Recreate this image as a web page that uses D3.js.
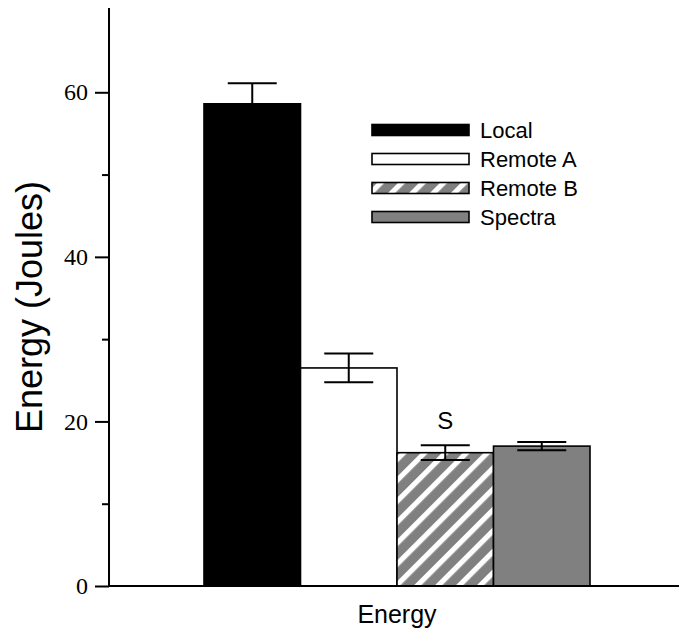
<!DOCTYPE html>
<html>
<head>
<meta charset="utf-8">
<script src="https://cdn.jsdelivr.net/npm/d3@7"></script>
<style>
  html, body { margin: 0; padding: 0; background: #fff; }
  svg { display: block; }
</style>
</head>
<body>
<div id="chart"></div>
<script>
// ---- data ----
const category = ["Energy"];
const series = ["Local", "Remote A", "Remote B", "Spectra"];
const values = [58.6, 26.5, 16.2, 17.0];
const errors = [2.5, 1.75, 0.9, 0.5];
const annotations = ["", "", "S", ""];
const majorTicks = [0, 20, 40, 60];
const minorTicks = [10, 30, 50];
const yLabel = "Energy (Joules)";

// ---- layout ----
const W = 679, H = 631;
const svg = d3.select("#chart").append("svg").attr("width", W).attr("height", H);

const defs = svg.append("defs");
const pat = defs.append("pattern")
  .attr("id", "hatch")
  .attr("patternUnits", "userSpaceOnUse")
  .attr("width", 14.8).attr("height", 14.8)
  .attr("patternTransform", "rotate(45)");
pat.append("rect").attr("width", 14.8).attr("height", 14.8).attr("fill", "#808080");
pat.append("rect").attr("x", 0).attr("width", 5.2).attr("height", 14.8).attr("fill", "#ffffff");

const fills = ["#000000", "#ffffff", "url(#hatch)", "#808080"];

const axisX = 109, baseY = 586;
const y = d3.scaleLinear().domain([0, 70]).range([baseY, 10]);
const x0 = d3.scaleBand().domain(category).range([axisX, 685]).padding(0.1975);
const x1 = d3.scaleBand().domain(series).range([0, x0.bandwidth()]).padding(0);

// bars
const g = svg.append("g");
const grp = g.selectAll("g.cat").data(category).enter().append("g")
  .attr("transform", d => `translate(${x0(d)},0)`);

const rows = series.map((s, i) => ({ s, v: values[i], e: errors[i], a: annotations[i], f: fills[i] }));

grp.selectAll("rect.bar").data(rows).enter().append("rect")
  .attr("class", "bar")
  .attr("x", d => x1(d.s))
  .attr("y", d => y(d.v))
  .attr("width", x1.bandwidth())
  .attr("height", d => y(0) - y(d.v))
  .attr("fill", d => d.f)
  .attr("stroke", "#000")
  .attr("stroke-width", 1.6);

// error bars
const capW = 49;
const eb = grp.selectAll("g.err").data(rows).enter().append("g").attr("class", "err")
  .attr("stroke", "#000").attr("stroke-width", 2);
eb.append("line")
  .attr("x1", d => x1(d.s) + x1.bandwidth() / 2)
  .attr("x2", d => x1(d.s) + x1.bandwidth() / 2)
  .attr("y1", d => y(d.v - d.e))
  .attr("y2", d => y(d.v + d.e));
eb.append("line")
  .attr("x1", d => x1(d.s) + x1.bandwidth() / 2 - capW / 2)
  .attr("x2", d => x1(d.s) + x1.bandwidth() / 2 + capW / 2)
  .attr("y1", d => y(d.v + d.e))
  .attr("y2", d => y(d.v + d.e));
eb.append("line")
  .attr("x1", d => x1(d.s) + x1.bandwidth() / 2 - capW / 2)
  .attr("x2", d => x1(d.s) + x1.bandwidth() / 2 + capW / 2)
  .attr("y1", d => y(d.v - d.e))
  .attr("y2", d => y(d.v - d.e));

// annotations
grp.selectAll("text.ann").data(rows.filter(d => d.a)).enter().append("text")
  .attr("class", "ann")
  .attr("x", d => x1(d.s) + x1.bandwidth() / 2)
  .attr("y", d => y(d.v + d.e) - 16)
  .attr("text-anchor", "middle")
  .attr("font-family", "Liberation Sans, Arial, sans-serif")
  .attr("font-size", 24)
  .text(d => d.a);

// y axis
const yAxis = d3.axisLeft(y).tickValues(majorTicks).tickSize(14).tickPadding(7).tickFormat(d3.format("d"));
const ya = svg.append("g").attr("transform", `translate(${axisX},0)`).call(yAxis);
ya.select(".domain").remove();
ya.selectAll(".tick line").attr("stroke", "#000").attr("stroke-width", 2);
ya.selectAll(".tick text")
  .attr("font-family", "Liberation Serif, Times New Roman, serif")
  .attr("font-size", 24)
  .attr("fill", "#000");
const ym = d3.axisLeft(y).tickValues(minorTicks).tickSize(7).tickFormat("");
const yb = svg.append("g").attr("transform", `translate(${axisX},0)`).call(ym);
yb.select(".domain").remove();
yb.selectAll(".tick line").attr("stroke", "#000").attr("stroke-width", 2);
svg.append("line")
  .attr("x1", axisX).attr("x2", axisX)
  .attr("y1", y(70) - 2).attr("y2", baseY + 1)
  .attr("stroke", "#000").attr("stroke-width", 2);

// x baseline
svg.append("line")
  .attr("x1", axisX).attr("x2", W)
  .attr("y1", baseY).attr("y2", baseY)
  .attr("stroke", "#000").attr("stroke-width", 2);

// x label
svg.append("text")
  .attr("x", x0(category[0]) + x0.bandwidth() / 2)
  .attr("y", 623)
  .attr("text-anchor", "middle")
  .attr("font-family", "Liberation Sans, Arial, sans-serif")
  .attr("font-size", 25)
  .text(category[0]);

// y label
svg.append("text")
  .attr("transform", "translate(42,307) rotate(-90)")
  .attr("text-anchor", "middle")
  .attr("font-family", "Liberation Sans, Arial, sans-serif")
  .attr("font-size", 36)
  .text(yLabel);

// legend
const legend = svg.append("g").attr("transform", "translate(372,130)");
const li = legend.selectAll("g").data(rows).enter().append("g")
  .attr("transform", (d, i) => `translate(0,${i * 29})`);
li.append("rect")
  .attr("x", 0).attr("y", -5.5)
  .attr("width", 97).attr("height", 11)
  .attr("fill", d => d.f)
  .attr("stroke", "#000").attr("stroke-width", 1.6);
li.append("text")
  .attr("x", 108).attr("y", 8)
  .attr("font-family", "Liberation Sans, Arial, sans-serif")
  .attr("font-size", 22)
  .text(d => d.s);
</script>
</body>
</html>
